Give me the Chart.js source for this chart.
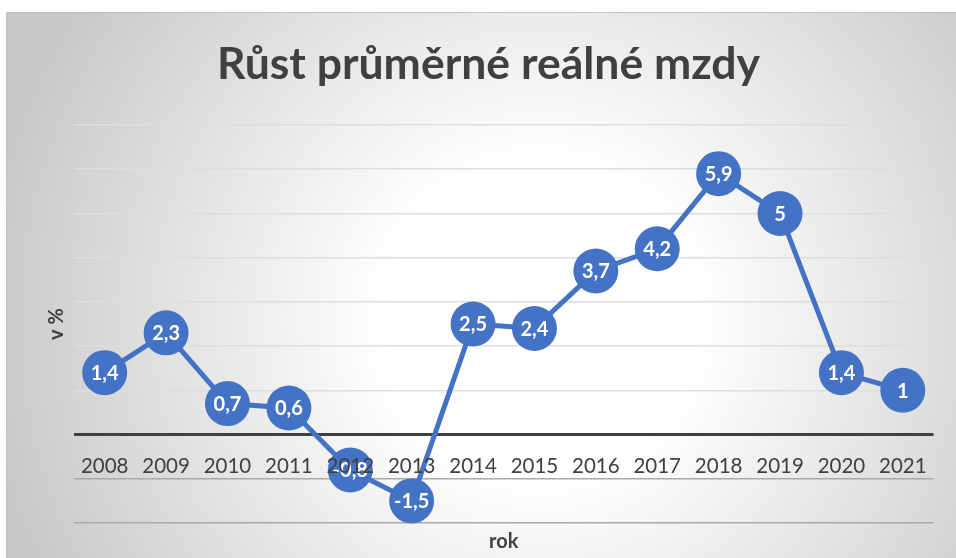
<!DOCTYPE html>
<html>
<head>
<meta charset="utf-8">
<script src="https://cdn.jsdelivr.net/npm/chart.js@4/dist/chart.umd.min.js"></script>
<style>
  html, body { margin: 0; padding: 0; background: #ffffff; }
  #wrap { width: 956px; height: 558px; position: relative; }
</style>
</head>
<body>
<div id="wrap"><canvas id="c" width="956" height="558"></canvas></div>
<script>
const titleText = 'Růst průměrné reálné mzdy';
const yAxisTitle = 'v %';
const xAxisTitle = 'rok';
const years = ['2008','2009','2010','2011','2012','2013','2014','2015','2016','2017','2018','2019','2020','2021'];
const realWageGrowth = [1.4, 2.3, 0.7, 0.6, -0.8, -1.5, 2.5, 2.4, 3.7, 4.2, 5.9, 5.0, 1.4, 1.0];
const yMin = -2, yMax = 7, yStep = 1;

const BLUE = '#4472C4';
const TEXT = '#404040';
const FONT = 'Lato, "Open Sans", sans-serif';

const bgPlugin = {
  id: 'bg',
  beforeDraw(chart) {
    const ctx = chart.ctx;
    const w = chart.width, h = chart.height;
    ctx.save();
    ctx.fillStyle = '#ffffff';
    ctx.fillRect(0, 0, w, h);
    const g = ctx.createRadialGradient(540, 320, 0, 540, 320, 560);
    g.addColorStop(0, '#ffffff');
    g.addColorStop(0.28, '#ffffff');
    g.addColorStop(1, '#c8c8c8');
    ctx.fillStyle = g;
    ctx.fillRect(6, 12, w - 6, h - 12);
    ctx.strokeStyle = '#c0c0c0';
    ctx.lineWidth = 1;
    ctx.beginPath();
    ctx.moveTo(6.5, h);
    ctx.lineTo(6.5, 12.5);
    ctx.lineTo(w, 12.5);
    ctx.stroke();
    ctx.restore();
  }
};

const labelPlugin = {
  id: 'pointLabels',
  afterDatasetsDraw(chart) {
    const ctx = chart.ctx;
    const meta = chart.getDatasetMeta(0);
    const data = chart.data.datasets[0].data;
    ctx.save();
    ctx.fillStyle = '#ffffff';
    ctx.font = 'bold 20px ' + FONT;
    ctx.textAlign = 'center';
    ctx.textBaseline = 'middle';
    meta.data.forEach((pt, i) => {
      const txt = String(data[i]).replace('.', ',');
      ctx.fillText(txt, pt.x, pt.y + 1);
    });
    ctx.restore();
  }
};

new Chart(document.getElementById('c'), {
  type: 'line',
  data: {
    labels: years,
    datasets: [{
      data: realWageGrowth,
      borderColor: BLUE,
      backgroundColor: BLUE,
      borderWidth: 5,
      pointRadius: 22.5,
      pointHoverRadius: 22.5,
      pointBackgroundColor: BLUE,
      pointBorderColor: BLUE,
      pointBorderWidth: 0,
      tension: 0,
      clip: false,
      xAxisID: 'x'
    }]
  },
  options: {
    responsive: false,
    animation: false,
    events: [],
    layout: { padding: { left: 40, right: 19, top: 0, bottom: 0 } },
    plugins: {
      legend: { display: false },
      tooltip: { enabled: false },
      title: {
        display: true,
        text: titleText,
        color: TEXT,
        font: { family: FONT, size: 44.5, weight: 'bold' },
        padding: { top: 38, bottom: 33.6 }
      }
    },
    scales: {
      y: {
        min: yMin,
        max: yMax,
        ticks: { display: false, stepSize: yStep },
        border: { display: false },
        grid: {
          drawTicks: false,
          color: (c) => c.tick.value === 0 ? '#404040' : (c.tick.value < 0 ? '#a9a9a9' : '#dedede'),
          lineWidth: (c) => c.tick.value === 0 ? 3 : 1.5
        },
        title: {
          display: true,
          text: yAxisTitle,
          color: TEXT,
          font: { family: FONT, size: 20, weight: 'bold' },
          padding: { top: 5, bottom: 0 }
        },
        afterFit(scale) { scale.width = 34; }
      },
      x: {
        type: 'category',
        position: { y: 0 },
        offset: true,
        grid: { display: false, drawTicks: false },
        border: { display: false },
        ticks: {
          z: 1,
          color: TEXT,
          padding: 20,
          maxRotation: 0,
          autoSkip: false,
          font: { family: FONT, size: 20.5 }
        }
      },
      x2: {
        type: 'category',
        position: 'bottom',
        offset: true,
        grid: { display: false, drawTicks: false },
        border: { display: false },
        ticks: { display: false },
        title: {
          display: true,
          text: xAxisTitle,
          color: TEXT,
          font: { family: FONT, size: 20, weight: 'bold' },
          padding: { top: 7, bottom: 4 }
        }
      }
    }
  },
  plugins: [bgPlugin, labelPlugin]
});
</script>
</body>
</html>
